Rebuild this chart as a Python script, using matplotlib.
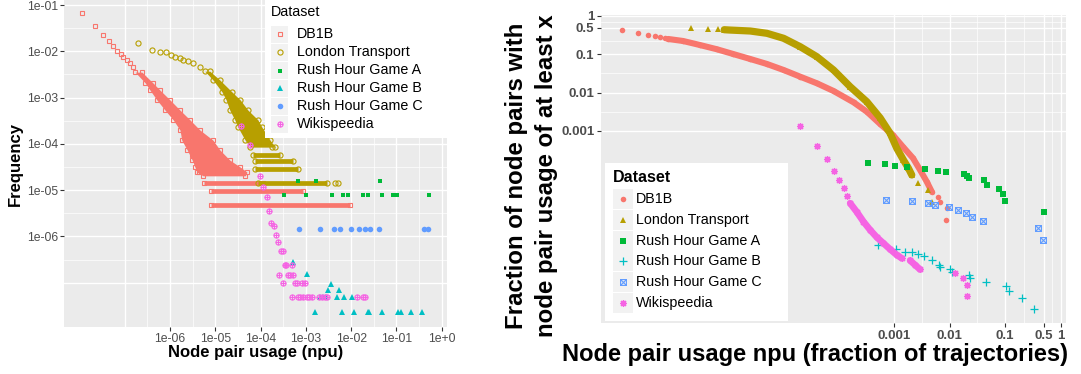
import numpy as np
import matplotlib
matplotlib.use("Agg")
import matplotlib.pyplot as plt
from matplotlib.path import Path
from matplotlib.lines import Line2D
from matplotlib.patches import Rectangle

plt.rcParams["font.family"] = ["Liberation Sans", "DejaVu Sans"]

W, H = 1081, 374

# ---------------------------------------------------------------------------
# data (log10 units)
# ---------------------------------------------------------------------------
datasets = ["DB1B", "London Transport", "Rush Hour Game A",
            "Rush Hour Game B", "Rush Hour Game C", "Wikispeedia"]
colors = ["#F8766D", "#B79F00", "#00BA38", "#00BFC4", "#619CFF", "#F564E3"]

# left panel: frequency of node pair usage
db1b_head_lx = [-7.95, -7.65, -7.47, -7.34, -7.25, -7.16, -7.09, -7.03, -6.96, -6.88, -6.82]
db1b_head_ly = [-1.18, -1.45, -1.65, -1.78, -1.89, -1.99, -2.06, -2.13, -2.19, -2.26, -2.34]
db1b_cloud_ly = [-2.45, -2.68, -2.84, -3.05, -3.27, -3.48, -3.70, -3.92, -4.13, -4.35, -4.50, -4.61, -4.69]
db1b_cloud_lo = [-6.77, -6.55, -6.44, -6.29, -6.11, -5.93, -5.78, -5.74, -5.62, -5.51, -5.45, -5.40, -5.27]
db1b_cloud_hi = [-6.62, -6.38, -6.22, -6.00, -5.78, -5.56, -5.34, -5.05, -4.90, -4.68, -4.45, -4.30, -4.34]
db1b_rows_ly = [-4.84, -5.02, -5.32]
db1b_rows_lo = [-5.25, -5.09, -5.09]
db1b_rows_hi = [-3.95, -3.06, -2.03]
db1b_out_lx = [-5.51, -5.36, -4.92, -4.68, -4.45]
db1b_out_ly = [-4.24, -4.61, -4.28, -4.46, -4.60]

london_head_lx = [-6.70, -6.39, -6.22, -6.09, -5.98, -5.89, -5.79, -5.71, -5.60, -5.49, -5.34]
london_head_ly = [-1.81, -1.97, -2.02, -2.02, -2.08, -2.12, -2.15, -2.19, -2.22, -2.26, -2.33]
london_cloud_ly = [-2.43, -2.62, -2.88, -3.05, -3.27, -3.48, -3.64, -3.92, -4.07]
london_cloud_lo = [-5.23, -5.05, -4.85, -4.76, -4.68, -4.57, -4.50, -4.34, -4.23]
london_cloud_hi = [-5.12, -4.90, -4.63, -4.45, -4.28, -4.06, -3.97, -3.79, -3.68]
london_rows_ly = [-4.24, -4.37, -4.54, -4.84]
london_rows_lo = [-4.17, -4.12, -4.12, -4.06]
london_rows_hi = [-3.57, -3.28, -3.17, -2.53]
london_out_lx = [-2.36, -2.29, -3.75]
london_out_ly = [-4.84, -4.84, -4.06]

rha_lx = [-3.17, -2.78, -1.36, -3.48, -3.00, -2.43, -2.19, -2.06, -1.74, -1.63, -1.33, -1.08, -0.995, -0.28]
rha_ly = [-4.81, -4.81, -4.81, -5.11, -5.11, -5.11, -5.11, -5.11, -5.11, -5.11, -5.11, -5.11, -5.11, -5.11]

rhb_lx = [-3.29, -2.98, -2.45, -2.51, -2.28, -2.69, -2.62, -2.56, -2.32, -2.16, -1.98,
          -2.80, -2.20, -1.93, -1.64, -1.60, -1.33, -0.96, -0.89, -0.68, -0.44]
rhb_ly = [-6.56, -6.80, -7.03, -7.16, -7.16, -7.31, -7.31, -7.31, -7.31, -7.31, -7.31,
          -7.64, -7.64, -7.64, -7.64, -7.64, -7.64, -7.64, -7.64, -7.64, -7.64]

rhc_lx = [-3.16, -2.68, -2.38, -2.25, -2.01, -1.83, -1.70, -1.58, -1.38, -0.39, -0.30]
rhc_ly = [-5.83, -5.83, -5.83, -5.83, -5.83, -5.83, -5.83, -5.83, -5.83, -5.83, -5.83]

wiki_lx = [-4.44, -4.23, -4.01, -3.94, -3.86, -3.81, -3.76, -3.70, -3.66, -3.62, -3.55, -3.51,
           -3.47, -3.43, -3.31, -3.59, -3.39, -3.35, -3.28, -3.50, -3.24, -3.20, -3.09, -3.02,
           -3.30, -3.17, -3.13, -3.06, -2.98, -2.93, -2.87, -2.70, -2.65, -2.58, -2.53, -1.88, -1.75, -1.70]
wiki_ly = [-3.62, -4.03, -4.69, -4.93, -5.14, -5.46, -5.70, -5.78, -5.97, -6.11, -6.31, -6.31,
           -6.62, -6.62, -6.62, -6.83, -6.83, -6.83, -6.83, -7.01, -7.01, -7.01, -7.01, -7.01,
           -7.31, -7.31, -7.31, -7.31, -7.31, -7.31, -7.31, -7.31, -7.31, -7.31, -7.31, -7.31, -7.31, -7.31]

# right panel: fraction of node pairs with npu >= x
db1b_c_lx = [-7.91, -7.61, -7.43, -7.31, -7.22, -7.13]
db1b_c_ly = [-0.373, -0.452, -0.496, -0.530, -0.556, -0.582]
db1b_run_lx = [-7.07, -6.80, -6.50, -6.19, -5.90, -5.59, -5.29, -4.99, -4.69, -4.39, -4.09,
               -3.73, -3.49, -3.25, -3.02, -2.84, -2.66, -2.53, -2.41, -2.32]
db1b_run_ly = [-0.600, -0.653, -0.757, -0.869, -0.992, -1.123, -1.253, -1.410, -1.585, -1.757, -1.958,
               -2.253, -2.499, -2.820, -3.107, -3.413, -3.708, -4.021, -4.326, -4.587]
db1b_tail_lx = [-2.20, -2.18, -2.05, -2.06]
db1b_tail_ly = [-4.734, -4.849, -5.021, -5.326]

london_c_lx = [-6.66, -6.36, -6.18]
london_c_ly = [-0.321, -0.339, -0.347]
london_run_lx = [-6.06, -5.97, -5.59, -5.29, -4.99, -4.69, -4.39, -4.09, -3.79, -3.49, -3.25,
                 -3.07, -2.95, -2.83, -2.74, -2.68]
london_run_ly = [-0.358, -0.366, -0.392, -0.452, -0.582, -0.802, -1.063, -1.410, -1.846, -2.238, -2.660,
                 -3.063, -3.454, -3.760, -3.977, -4.151]
london_tail_lx = [-2.56, -2.38, -2.32]
london_tail_ly = [-4.368, -4.556, -4.849]

rha_c_lx = [-3.47, -3.17, -2.99, -2.77, -2.44, -2.20, -2.06, -1.73, -1.69, -1.65, -1.38, -1.33,
            -1.11, -1.03, -1.00, -0.29]
rha_c_ly = [-3.846, -3.872, -3.916, -3.943, -4.003, -4.047, -4.081, -4.125, -4.170, -4.217, -4.282,
            -4.420, -4.525, -4.642, -4.822, -5.125]

rhb_c_lx = [-3.29, -2.97, -2.81, -2.68, -2.57, -2.46, -2.32, -2.19, -2.17, -1.99, -1.95, -1.65,
            -1.63, -1.34, -0.98, -0.92, -0.70, -0.47]
rhb_c_ly = [-5.971, -6.089, -6.157, -6.175, -6.214, -6.266, -6.384, -6.509, -6.546, -6.614, -6.684,
            -6.762, -6.854, -6.958, -7.050, -7.180, -7.358, -7.658]

rhc_c_lx = [-3.15, -2.68, -2.39, -2.26, -2.01, -1.84, -1.70, -1.60, -1.40, -0.41, -0.32]
rhc_c_ly = [-4.804, -4.843, -4.888, -4.942, -4.995, -5.065, -5.138, -5.240, -5.360, -5.540, -5.843]

wiki_c_lx = [-4.69, -4.39, -4.21, -4.09, -3.99, -3.91, -3.85, -1.90, -1.75, -1.69, -1.69]
wiki_c_ly = [-2.872, -3.386, -3.739, -4.039, -4.282, -4.499, -4.695, -6.718, -6.849, -7.029, -7.319]
wiki_run_lx = [-3.79, -3.67, -3.55, -3.43, -3.31, -3.19, -3.07, -2.95, -2.86]
wiki_run_ly = [-4.890, -5.117, -5.371, -5.587, -5.778, -5.935, -6.091, -6.240, -6.326]
wiki_run2_lx = [-2.71, -2.62, -2.53]
wiki_run2_ly = [-6.384, -6.501, -6.619]


def L(a):
    return 10.0 ** np.asarray(a, dtype=float)


# custom ggplot-ish shapes
SQ_CROSS = Path([(-1, -1), (1, -1), (1, 1), (-1, 1), (-1, -1), (-1, -1), (1, 1), (-1, 1), (1, -1)],
                [Path.MOVETO, Path.LINETO, Path.LINETO, Path.LINETO, Path.CLOSEPOLY,
                 Path.MOVETO, Path.LINETO, Path.MOVETO, Path.LINETO])
CIRC_PLUS = Path.make_compound_path(
    Path.unit_circle(),
    Path([(-1, 0), (1, 0)], [Path.MOVETO, Path.LINETO]),
    Path([(0, -1), (0, 1)], [Path.MOVETO, Path.LINETO]))
ASTER = (8, 2, 0)

left_marks = [dict(marker="s", mfc="none", ms=3.5, mew=0.8),
              dict(marker="o", mfc="none", ms=3.7, mew=0.8),
              dict(marker="s", ms=3.4, mew=0),
              dict(marker="^", ms=4.4, mew=0),
              dict(marker="o", ms=4.0, mew=0),
              dict(marker=CIRC_PLUS, mfc="none", ms=3.7, mew=0.8)]
right_marks = [dict(marker="o", ms=4.0, mew=0),
               dict(marker="^", ms=4.6, mew=0),
               dict(marker="s", ms=3.8, mew=0),
               dict(marker="+", ms=5.2, mew=0.9),
               dict(marker=SQ_CROSS, mfc="none", ms=4.2, mew=0.8),
               dict(marker=ASTER, ms=5.0, mew=0.9)]


def pts(ax, lx, ly, i, marks):
    ax.plot(L(lx), L(ly), ls="none", color=colors[i], zorder=3, **marks[i])


def run(ax, lx, ly, i, lw):
    ax.plot(L(lx), L(ly), "-", color=colors[i], lw=lw, solid_capstyle="round",
            solid_joinstyle="round", zorder=3)
    pts(ax, lx, ly, i, right_marks)


def cloud(ax, ly, lo, hi, i):
    ax.fill_betweenx(L(ly), L(lo), L(hi), color=colors[i], lw=0, zorder=3)
    pts(ax, lo, ly, i, left_marks)
    pts(ax, hi, ly, i, left_marks)


def rows(ax, ly, lo, hi, i):
    for y, a, b in zip(ly, lo, hi):
        ax.plot(L([a, b]), L([y, y]), "-", color=colors[i], lw=3.4,
                solid_capstyle="butt", zorder=3)
        pts(ax, [a, b], [y, y], i, left_marks)


def style(ax, xgrid_major, xgrid_minor, ygrid_major, ygrid_minor):
    ax.set_facecolor("#EBEBEB")
    for s in ax.spines.values():
        s.set_visible(False)
    for v in xgrid_minor:
        ax.axvline(v, color="white", lw=0.5, zorder=0.5)
    for v in ygrid_minor:
        ax.axhline(v, color="white", lw=0.5, zorder=0.5)
    for v in xgrid_major:
        ax.axvline(v, color="white", lw=1.0, zorder=0.6)
    for v in ygrid_major:
        ax.axhline(v, color="white", lw=1.0, zorder=0.6)
    ax.xaxis.set_minor_locator(matplotlib.ticker.NullLocator())
    ax.yaxis.set_minor_locator(matplotlib.ticker.NullLocator())


fig = plt.figure(figsize=(W / 100, H / 100), dpi=100)

# ---------------------------------------------------------------------------
# left panel
# ---------------------------------------------------------------------------
ax1 = fig.add_axes([64 / W, 1 - 327 / H, 383 / W, 327 / H])
ax1.set_xscale("log")
ax1.set_yscale("log")
ax1.set_xlim(10 ** -8.34, 10 ** 0.115)
ax1.set_ylim(10 ** -7.955, 10 ** -0.892)
style(ax1, 10.0 ** np.arange(-7, 1), 10.0 ** np.arange(-6.5, 0, 1.0),
      10.0 ** np.arange(-7, 0), 10.0 ** np.arange(-6.5, -0.9, 1.0))

pts(ax1, db1b_head_lx, db1b_head_ly, 0, left_marks)
cloud(ax1, db1b_cloud_ly, db1b_cloud_lo, db1b_cloud_hi, 0)
rows(ax1, db1b_rows_ly, db1b_rows_lo, db1b_rows_hi, 0)
pts(ax1, db1b_out_lx, db1b_out_ly, 0, left_marks)

pts(ax1, london_head_lx, london_head_ly, 1, left_marks)
cloud(ax1, london_cloud_ly, london_cloud_lo, london_cloud_hi, 1)
rows(ax1, london_rows_ly, london_rows_lo, london_rows_hi, 1)
pts(ax1, london_out_lx, london_out_ly, 1, left_marks)

pts(ax1, rha_lx, rha_ly, 2, left_marks)
pts(ax1, rhb_lx, rhb_ly, 3, left_marks)
pts(ax1, rhc_lx, rhc_ly, 4, left_marks)
pts(ax1, wiki_lx, wiki_ly, 5, left_marks)

ax1.set_xticks(10.0 ** np.arange(-6, 1),
               ["1e-06", "1e-05", "1e-04", "1e-03", "1e-02", "1e-01", "1e+0"])
ax1.set_yticks(10.0 ** np.arange(-6, 0),
               ["1e-06", "1e-05", "1e-04", "1e-03", "1e-02", "1e-01"])
ax1.tick_params(length=3.2, width=0.8, color="#333333", pad=1.2,
                labelsize=8.8, labelcolor="#4D4D4D")

# ---------------------------------------------------------------------------
# right panel
# ---------------------------------------------------------------------------
ax2 = fig.add_axes([601 / W, 1 - 323 / H, 465 / W, 308 / H])
ax2.set_xscale("log")
ax2.set_yscale("log")
ax2.set_xlim(10 ** -8.28, 10 ** 0.099)
ax2.set_ylim(10 ** -8.016, 10 ** 0.026)
brk = np.array([0.001, 0.01, 0.1, 0.5, 1.0])
mid = np.sqrt(brk[:-1] * brk[1:])
style(ax2, brk, mid, brk, mid)

pts(ax2, db1b_c_lx, db1b_c_ly, 0, right_marks)
run(ax2, db1b_run_lx, db1b_run_ly, 0, 4.4)
pts(ax2, db1b_tail_lx, db1b_tail_ly, 0, right_marks)

pts(ax2, london_c_lx, london_c_ly, 1, right_marks)
run(ax2, london_run_lx, london_run_ly, 1, 5.2)
pts(ax2, london_tail_lx, london_tail_ly, 1, right_marks)

pts(ax2, rha_c_lx, rha_c_ly, 2, right_marks)
pts(ax2, rhb_c_lx, rhb_c_ly, 3, right_marks)
pts(ax2, rhc_c_lx, rhc_c_ly, 4, right_marks)

pts(ax2, wiki_c_lx, wiki_c_ly, 5, right_marks)
run(ax2, wiki_run_lx, wiki_run_ly, 5, 4.8)
run(ax2, wiki_run2_lx, wiki_run2_ly, 5, 4.8)

ax2.set_xticks(brk, ["0.001", "0.01", "0.1", "0.5", "1"])
ax2.set_yticks(brk, ["0.001", "0.01", "0.1", "0.5", "1"])
ax2.tick_params(length=3.2, width=0.8, color="#333333", pad=1.5,
                labelsize=9.5, labelcolor="#4D4D4D")
for t in ax2.get_xticklabels() + ax2.get_yticklabels():
    t.set_fontweight("bold")


# ---------------------------------------------------------------------------
# titles and legends (figure pixel coordinates)
# ---------------------------------------------------------------------------
def fx(px):
    return px / W


def fy(py):
    return 1 - py / H


fig.text(fx(255.5), fy(353), "Node pair usage (npu)", ha="center", va="center",
         fontsize=12, fontweight="bold")
fig.text(fx(15), fy(163.5), "Frequency", ha="center", va="center", rotation=90,
         fontsize=12, fontweight="bold")
fig.text(fx(815), fy(354), "Node pair usage npu (fraction of trajectories)",
         ha="center", va="center", fontsize=17, fontweight="bold")
fig.text(fx(517), fy(176), "Fraction of node pairs with", ha="center", va="center",
         rotation=90, fontsize=17.3, fontweight="bold")
fig.text(fx(547), fy(176), "node pair usage of at least x", ha="center", va="center",
         rotation=90, fontsize=17.3, fontweight="bold")


def legend(box, title, bold, title_y, key_x, key_w, key_h, rows_y, text_x, marks):
    x0, y0, x1, y1 = box
    fig.add_artist(Rectangle((fx(x0), fy(y1)), (x1 - x0) / W, (y1 - y0) / H,
                             transform=fig.transFigure, facecolor="white",
                             edgecolor="none", zorder=5))
    fig.text(fx(key_x), fy(title_y), title, ha="left", va="center", fontsize=10.3 if not bold else 11.5,
             fontweight="bold" if bold else "normal", zorder=6)
    for i, (name, ry) in enumerate(zip(datasets, rows_y)):
        fig.add_artist(Rectangle((fx(key_x), fy(ry + key_h / 2)), key_w / W, key_h / H,
                                 transform=fig.transFigure, facecolor="#F2F2F2",
                                 edgecolor="none", zorder=6))
        fig.add_artist(Line2D([fx(key_x + key_w / 2)], [fy(ry)], transform=fig.transFigure,
                              ls="none", color=colors[i], zorder=7, **marks[i]))
        fig.text(fx(text_x), fy(ry), name, ha="left", va="center", fontsize=10.3, zorder=7)


legend((265, 0, 447, 138), "Dataset", False, 11.5, 271, 17, 17,
       [34, 52, 70.5, 88.3, 106.5, 124.3], 297, left_marks)
legend((605, 163, 788, 321), "Dataset", True, 177.5, 613, 20, 20,
       [199, 220, 240.7, 261.3, 282.3, 302.7], 636, right_marks)

fig.savefig("out.png", dpi=100)
